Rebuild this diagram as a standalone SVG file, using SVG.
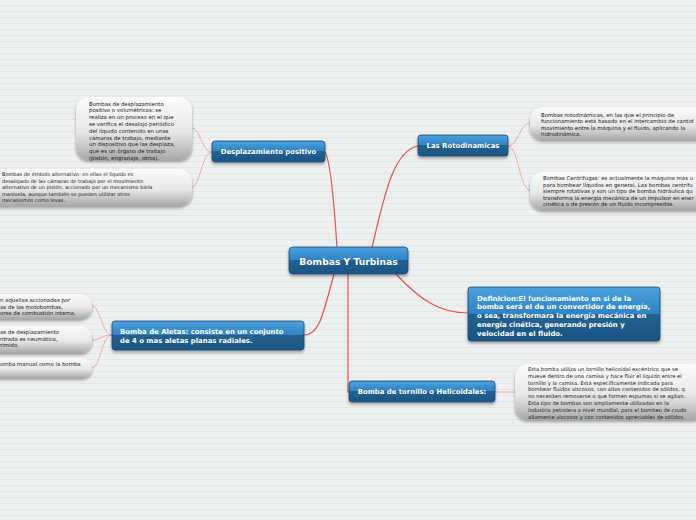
<svg xmlns="http://www.w3.org/2000/svg" width="696" height="520" viewBox="0 0 696 520">
<defs>
<pattern id="bgp" width="6" height="6" patternUnits="userSpaceOnUse">
<rect width="6" height="6" fill="#eef0f0"/>
<path d="M0 5.5H6" stroke="#e4e7e7" stroke-width="1"/>
</pattern>
<linearGradient id="blue" x1="0" y1="0" x2="0" y2="1">
<stop offset="0" stop-color="#4aa2de"/>
<stop offset="0.5" stop-color="#2f82c3"/>
<stop offset="0.5" stop-color="#22618f"/>
<stop offset="1" stop-color="#1c5584"/>
</linearGradient>
<linearGradient id="gray" x1="0" y1="0" x2="0" y2="1">
<stop offset="0" stop-color="#fbfbfb"/>
<stop offset="0.55" stop-color="#e8e8e8"/>
<stop offset="1" stop-color="#a8a8a8"/>
</linearGradient>
<filter id="sh" x="-10%" y="-20%" width="120%" height="160%">
<feDropShadow dx="0" dy="2" stdDeviation="1.5" flood-color="#000" flood-opacity="0.35"/>
</filter>
</defs>
<style>
.bn{fill:url(#blue);stroke:#1a4c78;stroke-width:0.8;filter:url(#sh)}
.gn{fill:url(#gray);filter:url(#sh)}
.bt{font-family:"DejaVu Sans",Verdana,sans-serif;font-weight:bold;fill:#fff;font-size:6.9px}
.ct{font-family:"DejaVu Sans",Verdana,sans-serif;font-weight:bold;fill:#fff;font-size:9.2px}
.nt{font-family:"DejaVu Sans",Verdana,sans-serif;fill:#222;font-size:5.4px}
.c1{fill:none;stroke:#e2574c;stroke-width:1.2}
.c2{fill:none;stroke:#ec9a92;stroke-width:0.8}
</style>
<rect width="696" height="520" fill="url(#bgp)"/>
<g id="connectors">
<path class="c1" d="M337 248 C 334 200, 330 160, 325 152"/>
<path class="c1" d="M372 248 C 385 190, 395 150, 418 146"/>
<path class="c1" d="M396 274 C 420 300, 440 313, 468 313"/>
<path class="c1" d="M334 274 C 322 320, 318 335, 304 335"/>
<path class="c1" d="M348 274 L348 392 L349 392"/>
<path class="c2" d="M212 152 C 202 152, 200 128, 192 128"/>
<path class="c2" d="M212 152 C 202 152, 200 187, 192 187"/>
<path class="c2" d="M508 146 C 518 146, 520 123, 530 123"/>
<path class="c2" d="M508 146 C 518 146, 520 190, 530 190"/>
<path class="c2" d="M112 335 C 102 335, 100 306, 92 306"/>
<path class="c2" d="M112 335 C 102 335, 100 340, 92 340"/>
<path class="c2" d="M112 335 C 102 335, 100 368, 92 368"/>
<path class="c2" d="M495 392 L515 392"/>
</g>
<g id="central">
<rect class="bn" x="289" y="247" width="119" height="27" rx="4"/>
<text class="ct" x="348.5" y="264.5" text-anchor="middle">Bombas Y Turbinas</text>
</g>
<g id="desplazamiento">
<rect class="bn" x="212" y="141" width="113" height="21" rx="3"/>
<text class="bt" x="268.5" y="154.3" text-anchor="middle">Desplazamiento positivo</text>
</g>
<g id="rotodinamicas">
<rect class="bn" x="418" y="135" width="90" height="21" rx="3"/>
<text class="bt" x="463" y="148.3" text-anchor="middle">Las Rotodinamicas</text>
</g>
<g id="definicion">
<rect class="bn" x="468" y="287" width="192" height="54" rx="3"/>
<text class="bt" x="477" y="300.5">Definicion:El funcionamiento en si de la</text>
<text class="bt" x="477" y="309.3">bomba será el de un convertidor de energía,</text>
<text class="bt" x="477" y="318.1">o sea, transformara la energía mecánica en</text>
<text class="bt" x="477" y="326.9">energía cinética, generando presión y</text>
<text class="bt" x="477" y="335.7">velocidad en el fluido.</text>
</g>
<g id="aletas">
<rect class="bn" x="112" y="321" width="192" height="29" rx="3"/>
<text class="bt" x="120" y="334">Bomba de Aletas: consiste en un conjunto</text>
<text class="bt" x="120" y="343">de 4 o mas aletas planas radiales.</text>
</g>
<g id="tornillo">
<rect class="bn" x="349" y="381" width="146" height="21" rx="3"/>
<text class="bt" x="422" y="394.3" text-anchor="middle">Bomba de tornillo o Helicoidales:</text>
</g>
<g id="note-volumetricas">
<rect class="gn" x="76" y="97" width="116" height="63" rx="13"/>
<text class="nt" x="89" y="105.5">Bombas de desplazamiento</text>
<text class="nt" x="89" y="112.3">positivo o volumétricas: se</text>
<text class="nt" x="89" y="119.1">realiza en un proceso en el que</text>
<text class="nt" x="89" y="125.9">se verifica el desalojo periódico</text>
<text class="nt" x="89" y="132.7">del líquido contenido en unas</text>
<text class="nt" x="89" y="139.5">cámaras de trabajo, mediante</text>
<text class="nt" x="89" y="146.3">un dispositivo que las desplaza,</text>
<text class="nt" x="89" y="153.1">que es un órgano de trabajo</text>
<text class="nt" x="89" y="159.9">(pistón, engranaje, otros).</text>
</g>
<g id="note-embolo" style="font-size:5px">
<rect class="gn" x="-12" y="169" width="204" height="37" rx="13"/>
<text class="nt" x="2" y="176" style="font-size:5px">Bombas de émbolo alternativo: en ellas el líquido es</text>
<text class="nt" x="2" y="182.6" style="font-size:5px">desalojado de las cámaras de trabajo por el movimiento</text>
<text class="nt" x="2" y="189.2" style="font-size:5px">alternativo de un pistón, accionado por un mecanismo biela</text>
<text class="nt" x="2" y="195.8" style="font-size:5px">manivela, aunque también se pueden utilizar otros</text>
<text class="nt" x="2" y="202.4" style="font-size:5px">mecanismos como levas.</text>
</g>
<g id="note-rotodinamicas">
<rect class="gn" x="530" y="107" width="180" height="33" rx="13"/>
<text class="nt" x="541" y="116.5">Bombas rotodinámicas, en las que el principio de</text>
<text class="nt" x="541" y="123.1">funcionamiento está basado en el intercambio de cantid</text>
<text class="nt" x="541" y="129.7">movimiento entre la máquina y el fluido, aplicando la</text>
<text class="nt" x="541" y="136.3">hidrodinámica.</text>
</g>
<g id="note-centrifugas">
<rect class="gn" x="530" y="172" width="180" height="38" rx="13"/>
<text class="nt" x="543" y="180">Bombas Centrífugas: es actualmente la máquina más u</text>
<text class="nt" x="543" y="186.6">para bombear líquidos en general. Las bombas centrífu</text>
<text class="nt" x="543" y="193.2">siempre rotativas y son un tipo de bomba hidráulica qu</text>
<text class="nt" x="543" y="199.8">transforma la energía mecánica de un impulsor en ener</text>
<text class="nt" x="543" y="206.4">cinética o de presión de un fluido incompresible.</text>
</g>
<g id="note-a">
<rect class="gn" x="-12" y="294" width="104" height="25" rx="12"/>
<text class="nt" x="0" y="302">n aquellas accionadas por</text>
<text class="nt" x="0" y="308.6">as de las motobombas,</text>
<text class="nt" x="0" y="315.2">ores de combustión interna.</text>
</g>
<g id="note-b">
<rect class="gn" x="-12" y="326" width="104" height="27" rx="12"/>
<text class="nt" x="0" y="334">as de desplazamiento</text>
<text class="nt" x="0" y="340.6">ntrada es neumática,</text>
<text class="nt" x="0" y="347.2">rimido.</text>
</g>
<g id="note-c">
<rect class="gn" x="-12" y="358" width="104" height="20" rx="10"/>
<text class="nt" x="0" y="366">omba manual como la bomba</text>
</g>
<g id="note-tornillo">
<rect class="gn" x="515" y="364" width="190" height="56" rx="13"/>
<text class="nt" x="528" y="371" style="font-size:5.2px">Esta bomba utiliza un tornillo helicoidal excéntrico que se</text>
<text class="nt" x="528" y="377.8" style="font-size:5.2px">mueve dentro de una camisa y hace fluir el líquido entre el</text>
<text class="nt" x="528" y="384.6" style="font-size:5.2px">tornillo y la camisa. Está específicamente indicada para</text>
<text class="nt" x="528" y="391.4" style="font-size:5.2px">bombear fluidos viscosos, con altos contenidos de sólidos, q</text>
<text class="nt" x="528" y="398.2" style="font-size:5.2px">no necesiten removerse o que formen espumas si se agitan.</text>
<text class="nt" x="528" y="405" style="font-size:5.2px">Esta tipo de bombas son ampliamente utilizadas en la</text>
<text class="nt" x="528" y="411.8" style="font-size:5.2px">industria petrolera a nivel mundial, para el bombeo de crudo</text>
<text class="nt" x="528" y="418.6" style="font-size:5.2px">altamente viscosos y con contenidos apreciables de sólidos.</text>
</g>
</svg>
